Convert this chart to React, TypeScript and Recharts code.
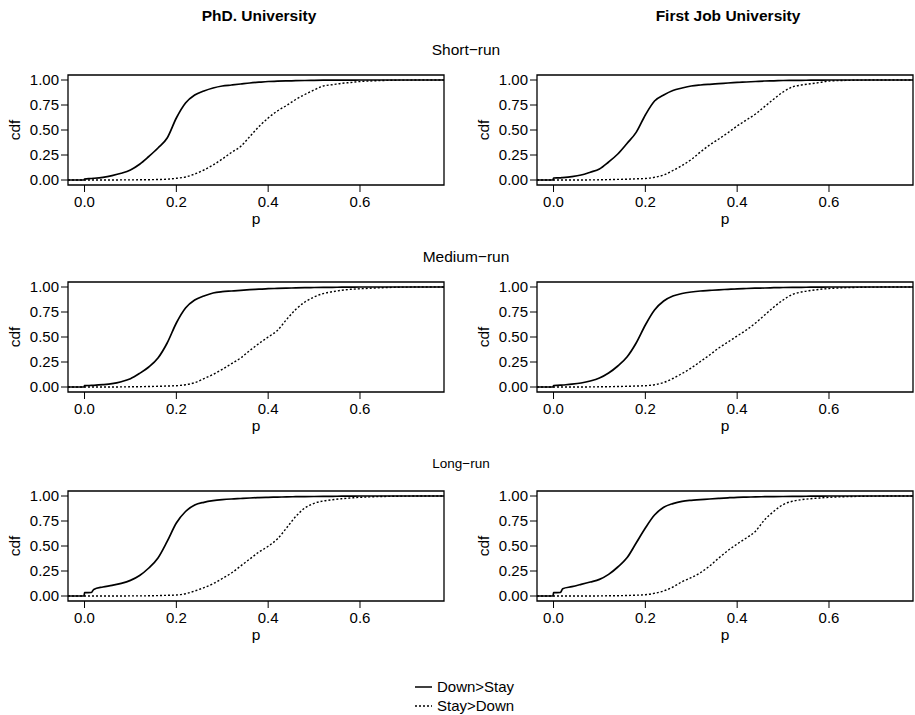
import React from 'react';
import { LineChart, Line, XAxis, YAxis, ReferenceArea } from 'recharts';

// p grid (x values)
const P = [-0.036, -0.001, 0, 0.015, 0.02, 0.04, 0.06, 0.08, 0.10, 0.12, 0.14, 0.16, 0.18, 0.20, 0.22, 0.24, 0.26, 0.28, 0.30, 0.32, 0.34, 0.36, 0.38, 0.40, 0.42, 0.44, 0.46, 0.48, 0.50, 0.52, 0.54, 0.56, 0.58, 0.60, 0.62, 0.65, 0.70, 0.783];

// PhD University, Short-run
const phdShortDown = [0, 0, 0.01, 0.015, 0.017, 0.027, 0.044, 0.067, 0.10, 0.157, 0.235, 0.32, 0.42, 0.62, 0.77, 0.85, 0.89, 0.92, 0.94, 0.95, 0.96, 0.97, 0.978, 0.985, 0.988, 0.991, 0.993, 0.995, 0.997, 0.998, 0.998, 0.999, 0.999, 1, 1, 1, 1, 1];
const phdShortStay = [0, 0, 0, 0, 0, 0, 0, 0.001, 0.001, 0.002, 0.003, 0.005, 0.008, 0.017, 0.03, 0.06, 0.10, 0.15, 0.21, 0.275, 0.335, 0.435, 0.535, 0.62, 0.69, 0.745, 0.805, 0.855, 0.90, 0.94, 0.953, 0.967, 0.975, 0.985, 0.99, 0.995, 0.999, 1];
// First Job University, Short-run
const jobShortDown = [0, 0, 0.02, 0.022, 0.024, 0.034, 0.05, 0.078, 0.11, 0.18, 0.26, 0.365, 0.476, 0.65, 0.79, 0.85, 0.895, 0.92, 0.94, 0.95, 0.957, 0.963, 0.97, 0.976, 0.98, 0.985, 0.99, 0.992, 0.995, 0.996, 0.997, 0.998, 0.999, 1, 1, 1, 1, 1];
const jobShortStay = [0, 0, 0, 0, 0, 0, 0, 0.001, 0.002, 0.004, 0.006, 0.008, 0.012, 0.015, 0.027, 0.05, 0.095, 0.145, 0.205, 0.28, 0.35, 0.41, 0.473, 0.54, 0.60, 0.66, 0.735, 0.81, 0.88, 0.93, 0.95, 0.963, 0.975, 0.99, 0.994, 0.997, 1, 1];
// PhD University, Medium-run
const phdMediumDown = [0, 0, 0.013, 0.016, 0.017, 0.023, 0.033, 0.053, 0.083, 0.136, 0.20, 0.29, 0.44, 0.64, 0.79, 0.87, 0.91, 0.94, 0.953, 0.96, 0.967, 0.973, 0.978, 0.983, 0.986, 0.989, 0.991, 0.993, 0.995, 0.996, 0.997, 0.998, 0.999, 1, 1, 1, 1, 1];
const phdMediumStay = [0, 0, 0, 0, 0, 0, 0, 0.001, 0.002, 0.003, 0.005, 0.007, 0.01, 0.013, 0.023, 0.043, 0.083, 0.126, 0.176, 0.233, 0.29, 0.365, 0.435, 0.50, 0.565, 0.675, 0.775, 0.85, 0.90, 0.934, 0.953, 0.967, 0.977, 0.982, 0.987, 0.993, 0.999, 1];
// First Job University, Medium-run
const jobMediumDown = [0, 0, 0.015, 0.018, 0.02, 0.028, 0.04, 0.06, 0.09, 0.14, 0.21, 0.30, 0.44, 0.62, 0.77, 0.86, 0.91, 0.935, 0.95, 0.96, 0.966, 0.972, 0.977, 0.982, 0.985, 0.988, 0.99, 0.993, 0.995, 0.996, 0.997, 0.998, 0.999, 1, 1, 1, 1, 1];
const jobMediumStay = [0, 0, 0, 0, 0, 0, 0, 0.001, 0.002, 0.003, 0.005, 0.007, 0.01, 0.013, 0.023, 0.045, 0.085, 0.135, 0.19, 0.255, 0.32, 0.39, 0.45, 0.51, 0.57, 0.64, 0.72, 0.80, 0.87, 0.925, 0.95, 0.965, 0.977, 0.985, 0.99, 0.995, 0.999, 1];
// PhD University, Long-run
const phdLongDown = [0, 0, 0.033, 0.035, 0.066, 0.09, 0.106, 0.126, 0.156, 0.205, 0.28, 0.38, 0.546, 0.73, 0.845, 0.91, 0.937, 0.953, 0.963, 0.97, 0.975, 0.98, 0.984, 0.987, 0.989, 0.991, 0.993, 0.994, 0.995, 0.996, 0.997, 0.998, 0.999, 1, 1, 1, 1, 1];
const phdLongStay = [0, 0, 0, 0, 0, 0, 0, 0, 0.001, 0.001, 0.002, 0.004, 0.007, 0.01, 0.023, 0.05, 0.083, 0.123, 0.175, 0.23, 0.30, 0.37, 0.44, 0.497, 0.57, 0.68, 0.795, 0.88, 0.927, 0.95, 0.963, 0.973, 0.98, 0.987, 0.991, 0.995, 0.999, 1];
// First Job University, Long-run
const jobLongDown = [0, 0, 0.033, 0.036, 0.073, 0.093, 0.116, 0.14, 0.166, 0.216, 0.29, 0.382, 0.53, 0.68, 0.81, 0.887, 0.924, 0.947, 0.957, 0.963, 0.97, 0.976, 0.982, 0.987, 0.989, 0.991, 0.993, 0.994, 0.995, 0.996, 0.997, 0.998, 0.999, 1, 1, 1, 1, 1];
const jobLongStay = [0, 0, 0, 0, 0, 0, 0, 0, 0.001, 0.002, 0.003, 0.005, 0.008, 0.013, 0.027, 0.05, 0.09, 0.143, 0.183, 0.233, 0.30, 0.38, 0.455, 0.52, 0.58, 0.648, 0.764, 0.847, 0.914, 0.947, 0.963, 0.973, 0.98, 0.987, 0.991, 0.995, 0.999, 1];

const X_TICKS = [0, 0.2, 0.4, 0.6];
const Y_TICKS = [0, 0.25, 0.5, 0.75, 1];
const X_DOMAIN: [number, number] = [-0.036, 0.783];
const Y_DOMAIN: [number, number] = [-0.05, 1.05];

const COLUMN_TITLES = ['PhD. University', 'First Job University'];
const ROW_TITLES = ['Short\u2212run', 'Medium\u2212run', 'Long\u2212run'];
const LEGEND_LABELS = ['Down>Stay', 'Stay>Down'];

const PANELS = [
  [phdShortDown, phdShortStay, jobShortDown, jobShortStay],
  [phdMediumDown, phdMediumStay, jobMediumDown, jobMediumStay],
  [phdLongDown, phdLongStay, jobLongDown, jobLongStay],
];

const FONT = '"Liberation Sans", Arial, Helvetica, sans-serif';

const XLabel = (props: any) => {
  const vb = props.viewBox || {};
  return (
    <text x={vb.x + vb.width / 2} y={vb.y + 39} textAnchor="middle" fontSize={15.5} fill="#000">p</text>
  );
};

const YLabel = (props: any) => {
  const vb = props.viewBox || {};
  const cx = vb.x + 14;
  const cy = vb.y + vb.height / 2;
  return (
    <text x={cx} y={cy} transform={`rotate(-90 ${cx} ${cy})`} textAnchor="middle" dominantBaseline="central" fontSize={15.5} fill="#000">cdf</text>
  );
};

function Panel({ down, stay, left, top }: { down: number[]; stay: number[]; left: number; top: number }) {
  const data = P.map((p, i) => ({ p, down: down[i], stay: stay[i] }));
  return (
    <div style={{ position: 'absolute', left, top }}>
      <LineChart width={446} height={190} data={data} margin={{ top: 10, right: 2, bottom: 20, left: 0 }}>
        <ReferenceArea x1={X_DOMAIN[0]} x2={X_DOMAIN[1]} y1={Y_DOMAIN[0]} y2={Y_DOMAIN[1]} fill="none" stroke="#000" strokeWidth={1.3} ifOverflow="visible" />
        <XAxis
          type="number"
          dataKey="p"
          domain={X_DOMAIN}
          ticks={X_TICKS}
          interval={0}
          allowDataOverflow
          axisLine={false}
          tickLine={{ stroke: '#000', strokeWidth: 1 }}
          tickSize={7}
          tickMargin={4}
          tick={{ fill: '#000', fontSize: 15 }}
          tickFormatter={(v: number) => v.toFixed(1)}
          height={50}
          label={{ content: XLabel }}
        />
        <YAxis
          type="number"
          domain={Y_DOMAIN}
          ticks={Y_TICKS}
          interval={0}
          allowDataOverflow
          axisLine={false}
          tickLine={{ stroke: '#000', strokeWidth: 1 }}
          tickSize={7}
          tickMargin={2}
          width={68}
          tick={{ fill: '#000', fontSize: 15 }}
          tickFormatter={(v: number) => v.toFixed(2)}
          label={{ content: YLabel }}
        />
        <Line dataKey="down" type="monotone" stroke="#000" strokeWidth={1.7} dot={false} isAnimationActive={false} />
        <Line dataKey="stay" type="monotone" stroke="#000" strokeWidth={1.4} strokeDasharray="2 2" dot={false} isAnimationActive={false} />
      </LineChart>
    </div>
  );
}

const centered = (cx: number, cy: number, extra: React.CSSProperties = {}): React.CSSProperties => ({
  position: 'absolute',
  left: cx,
  top: cy,
  transform: 'translate(-50%, -50%)',
  whiteSpace: 'nowrap',
  lineHeight: 1,
  ...extra,
});

export default function App() {
  const rowTops = [65, 272, 481];
  const rowTitleY = [49.5, 256.5, 463.5];
  const rowTitleX = [466, 466, 461];
  const rowTitleSize = [15.5, 15.5, 13.5];
  return (
    <div style={{ position: 'absolute', left: 0, top: 0, width: 915, height: 715, overflow: 'hidden', background: '#fff', fontFamily: FONT, color: '#000' }}>
      <div style={centered(259, 16, { fontWeight: 'bold', fontSize: 15.5 })}>{COLUMN_TITLES[0]}</div>
      <div style={centered(728, 16, { fontWeight: 'bold', fontSize: 15.5 })}>{COLUMN_TITLES[1]}</div>
      {ROW_TITLES.map((t, r) => (
        <div key={t} style={centered(rowTitleX[r], rowTitleY[r], { fontSize: rowTitleSize[r] })}>{t}</div>
      ))}
      {PANELS.map((row, r) => (
        <React.Fragment key={r}>
          <Panel down={row[0]} stay={row[1]} left={0} top={rowTops[r]} />
          <Panel down={row[2]} stay={row[3]} left={469} top={rowTops[r]} />
        </React.Fragment>
      ))}
      {LEGEND_LABELS.map((label, i) => (
        <div key={label} style={{ position: 'absolute', left: 415, top: 677 + i * 19, height: 19, display: 'flex', alignItems: 'center', fontSize: 15 }}>
          <svg width={17} height={10} style={{ display: 'block' }}>
            <line x1={0} y1={5} x2={17} y2={5} stroke="#000" strokeWidth={i === 0 ? 1.5 : 1.4} strokeDasharray={i === 0 ? undefined : '2 2'} />
          </svg>
          <span style={{ marginLeft: 5 }}>{label}</span>
        </div>
      ))}
    </div>
  );
}
